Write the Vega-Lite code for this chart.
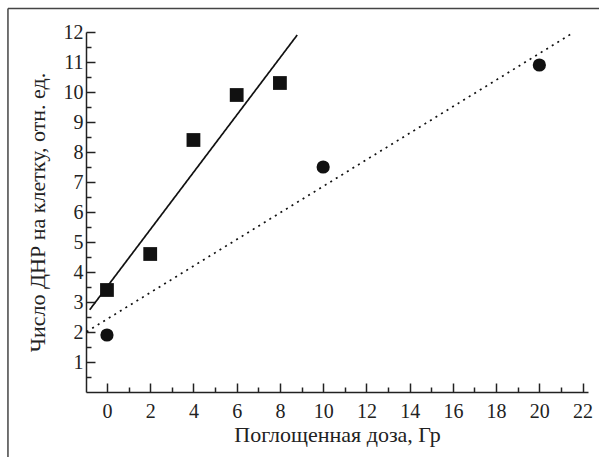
{
  "$schema": "https://vega.github.io/schema/vega-lite/v6.json",
  "width": 502,
  "height": 360,
  "autosize": {"type": "none"},
  "padding": {"left": 86, "top": 32, "right": 11, "bottom": 65},
  "background": "white",
  "config": {
    "view": {"stroke": null},
    "font": "Liberation Serif",
    "axis": {
      "grid": false,
      "domainColor": "#222",
      "domainWidth": 1.5,
      "tickColor": "#222",
      "tickWidth": 1.5,
      "labelColor": "#222",
      "titleColor": "#222",
      "labelFont": "Liberation Serif",
      "titleFont": "Liberation Serif",
      "labelFontSize": 20,
      "titleFontSize": 22,
      "titleFontWeight": "normal"
    }
  },
  "datasets": {
    "points": [
      {"dose": 0, "dnr": 3.4, "group": "square"},
      {"dose": 2, "dnr": 4.6, "group": "square"},
      {"dose": 4, "dnr": 8.4, "group": "square"},
      {"dose": 6, "dnr": 9.9, "group": "square"},
      {"dose": 8, "dnr": 10.3, "group": "square"},
      {"dose": 0, "dnr": 1.9, "group": "circle"},
      {"dose": 10, "dnr": 7.5, "group": "circle"},
      {"dose": 20, "dnr": 10.9, "group": "circle"}
    ],
    "fits": [
      {"dose": -0.8, "dnr": 2.74, "series": "fit1"},
      {"dose": 8.8, "dnr": 11.9, "series": "fit1"},
      {"dose": -0.94, "dnr": 2.01, "series": "fit2"},
      {"dose": 21.55, "dnr": 11.97, "series": "fit2"}
    ]
  },
  "layer": [
    {
      "data": {"name": "fits"},
      "mark": {"type": "line", "color": "#111", "strokeWidth": 1.7},
      "encoding": {
        "x": {
          "field": "dose",
          "type": "quantitative",
          "scale": {"domain": [-0.97, 22.25], "nice": false, "zero": false},
          "axis": {"orient": "bottom", "values": [1, 3, 5, 7, 9, 11, 13, 15, 17, 19, 21], "labels": false, "domain": false, "title": null, "tickSize": -5}
        },
        "y": {
          "field": "dnr",
          "type": "quantitative",
          "scale": {"domain": [0, 12], "nice": false},
          "axis": {"orient": "left", "values": [0.5, 1.5, 2.5, 3.5, 4.5, 5.5, 6.5, 7.5, 8.5, 9.5, 10.5, 11.5], "labels": false, "domain": false, "title": null, "tickSize": -5}
        },
        "detail": {"field": "series"},
        "strokeDash": {
          "field": "series",
          "scale": {"domain": ["fit1", "fit2"], "range": [[1, 0], [2, 4.5]]},
          "legend": null
        }
      }
    },
    {
      "data": {"name": "points"},
      "mark": {"type": "point", "filled": true, "opacity": 1, "color": "#111"},
      "encoding": {
        "x": {
          "field": "dose",
          "type": "quantitative",
          "title": "Поглощенная доза, Гр",
          "axis": {"orient": "bottom", "values": [0, 2, 4, 6, 8, 10, 12, 14, 16, 18, 20, 22], "tickSize": -9, "labelPadding": 18, "titlePadding": 3}
        },
        "y": {
          "field": "dnr",
          "type": "quantitative",
          "title": "Число ДНР на клетку, отн. ед.",
          "axis": {"orient": "left", "values": [1, 2, 3, 4, 5, 6, 7, 8, 9, 10, 11, 12], "tickSize": -9, "labelPadding": 12, "titlePadding": 14}
        },
        "shape": {
          "field": "group",
          "scale": {"domain": ["square", "circle"], "range": ["square", "circle"]},
          "legend": null
        },
        "size": {
          "field": "group",
          "scale": {"domain": ["square", "circle"], "range": [190, 175]},
          "legend": null
        }
      }
    },
    {
      "data": {"values": [{}]},
      "mark": {"type": "rule", "color": "#444", "strokeWidth": 1.5, "clip": false},
      "encoding": {
        "x": {"datum": -4.58, "type": "quantitative", "axis": null},
        "x2": {"datum": 23.2},
        "y": {"datum": 12.78, "type": "quantitative", "axis": null}
      }
    },
    {
      "data": {"values": [{}]},
      "mark": {"type": "rule", "color": "#444", "strokeWidth": 1.5, "clip": false},
      "encoding": {
        "x": {"datum": -4.58, "type": "quantitative", "axis": null},
        "y": {"datum": 12.78, "type": "quantitative", "axis": null},
        "y2": {"datum": -2.6}
      }
    }
  ],
  "resolve": {"axis": {"x": "independent", "y": "independent"}}
}
